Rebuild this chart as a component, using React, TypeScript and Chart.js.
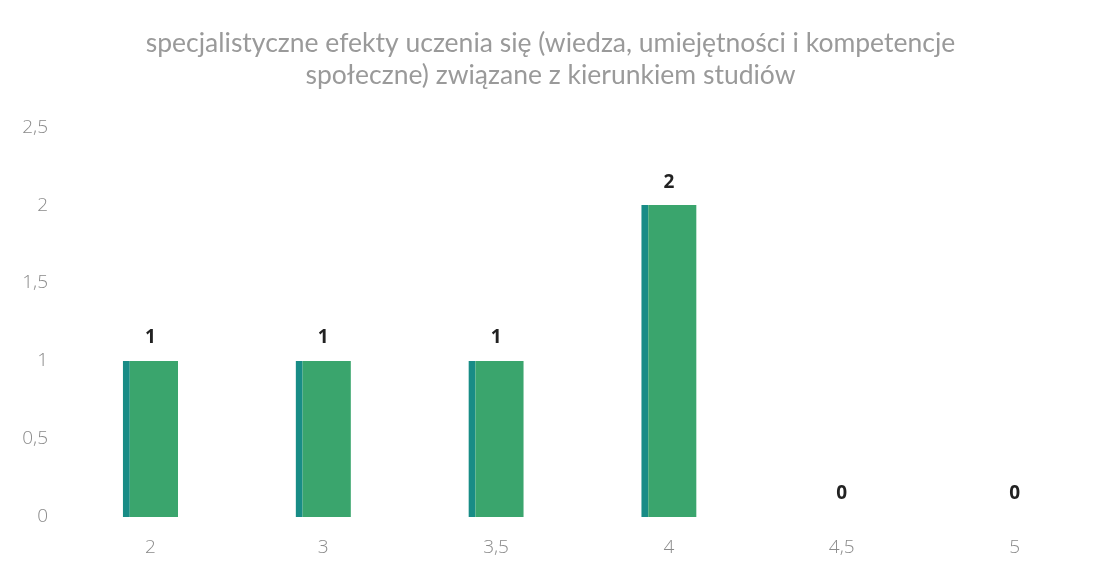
import React, { useEffect, useRef } from "react";
import { Chart, registerables } from "chart.js";

Chart.register(...registerables);

const categories = ["2", "3", "3,5", "4", "4,5", "5"];
const values = [1, 1, 1, 2, 0, 0];
const titleLines = [
  "specjalistyczne efekty uczenia się (wiedza, umiejętności i kompetencje",
  "społeczne) związane z kierunkiem studiów",
];

const FONT = "'Open Sans', Lato, sans-serif";
const TITLE_FONT = "Lato, 'Open Sans', sans-serif";

const labelPlugin = {
  id: "valueLabels",
  afterDatasetsDraw(chart: any) {
    const ctx = chart.ctx;
    const meta = chart.getDatasetMeta(0);
    ctx.save();
    ctx.font = `bold 19px ${FONT}`;
    ctx.fillStyle = "#222";
    ctx.textAlign = "center";
    ctx.textBaseline = "middle";
    meta.data.forEach((bar: any, i: number) => {
      ctx.fillText(String(values[i]), bar.x, bar.y - 23);
    });
    ctx.restore();
  },
};

export default function App() {
  const ref = useRef<HTMLCanvasElement>(null);
  useEffect(() => {
    document.body.style.margin = "0";
    const chart = new Chart(ref.current!, {
      type: "bar",
      data: {
        labels: categories,
        datasets: [
          {
            data: values,
            backgroundColor: "#3aa56d",
            borderColor: "#188c86",
            borderWidth: { left: 7, top: 0, right: 0, bottom: 0 },
            borderSkipped: false,
            barPercentage: 0.32,
            categoryPercentage: 1,
          },
        ],
      },
      options: {
        animation: false,
        responsive: false,
        layout: { padding: { left: 0, right: 16, top: 0, bottom: 0 } },
        plugins: {
          legend: { display: false },
          tooltip: { enabled: false },
          title: {
            display: true,
            text: titleLines,
            color: "#9a9a9a",
            font: { family: TITLE_FONT, size: 26.5, weight: "normal", lineHeight: 1.21 },
            padding: { top: 27, bottom: 36 },
          },
        },
        scales: {
          x: {
            grid: { display: false, drawTicks: false },
            border: { display: false },
            ticks: { color: "#8a8a8a", font: { family: FONT, size: 19, weight: "300" }, padding: 19 },
            afterFit: (s: any) => { s.height = 55; },
          },
          y: {
            min: 0,
            max: 2.5,
            grid: { display: false, drawTicks: false },
            border: { display: false },
            ticks: {
              stepSize: 0.5,
              color: "#8a8a8a",
              font: { family: FONT, size: 19, weight: "300" },
              padding: 16,
              callback: (v: any) => String(v).replace(".", ","),
            },
            afterFit: (s: any) => { s.width = 64; },
          },
        },
      },
      plugins: [labelPlugin],
    });
    return () => chart.destroy();
  }, []);
  return (
    <div style={{ width: 1117, height: 572, background: "#fff" }}>
      <canvas ref={ref} width={1117} height={572} />
    </div>
  );
}
